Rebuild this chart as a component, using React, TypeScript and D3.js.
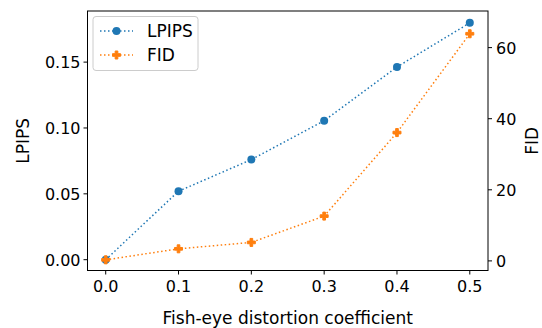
import React from "react";
import * as d3 from "d3";

const coeffs = [0.0, 0.1, 0.2, 0.3, 0.4, 0.5];
const lpips = [0.0, 0.052, 0.076, 0.1055, 0.1463, 0.1798];
const fid = [0.3, 3.4, 5.2, 12.6, 36.1, 63.9];
const xTicks = [0.0, 0.1, 0.2, 0.3, 0.4, 0.5];
const leftTicks = [0.0, 0.05, 0.1, 0.15];
const rightTicks = [0, 20, 40, 60];

const W = 542, H = 328;
const L = 87.5, R = 488, T = 11, B = 270.5;
const BLUE = "#1f77b4", ORANGE = "#ff7f0e";
const FONT = "DejaVu Sans, sans-serif";
const TICK_FS = 16;
const LABEL_FS = 17;

function Plus({ x, y, s, color }: { x: number; y: number; s: number; color: string }) {
  const a = s / 2, b = s / 6;
  const d = `M${x - b},${y - a}H${x + b}V${y - b}H${x + a}V${y + b}H${x + b}V${y + a}H${x - b}V${y + b}H${x - a}V${y - b}H${x - b}Z`;
  return <path d={d} fill={color} stroke={color} strokeWidth={1} strokeLinejoin="miter" />;
}

export default function App() {
  const x = d3.scaleLinear().domain([-0.025, 0.525]).range([L, R]);
  const yL = d3.scaleLinear().domain([-0.0082, 0.1888]).range([B, T]);
  const yR = d3.scaleLinear().domain([-2.7, 70.3]).range([B, T]);
  const lineL = d3.line<number>().x((_, i) => x(coeffs[i])).y((d) => yL(d));
  const lineR = d3.line<number>().x((_, i) => x(coeffs[i])).y((d) => yR(d));
  const dash = "1.5 2.5";
  return (
    <svg width={W} height={H} style={{ position: "absolute", left: 0, top: 0, fontFamily: FONT }}>
      <rect width={W} height={H} fill="white" />
      <path d={lineL(lpips) || ""} fill="none" stroke={BLUE} strokeWidth={1.5} strokeDasharray={dash} />
      {lpips.map((v, i) => (
        <circle key={"c" + i} cx={x(coeffs[i])} cy={yL(v)} r={4} fill={BLUE} />
      ))}
      <path d={lineR(fid) || ""} fill="none" stroke={ORANGE} strokeWidth={1.5} strokeDasharray={dash} />
      {fid.map((v, i) => (
        <Plus key={"p" + i} x={x(coeffs[i])} y={yR(v)} s={8} color={ORANGE} />
      ))}
      <rect x={L} y={T} width={R - L} height={B - T} fill="none" stroke="black" strokeWidth={1} />
      {xTicks.map((t) => (
        <g key={"x" + t}>
          <line x1={x(t)} x2={x(t)} y1={B} y2={B + 4} stroke="black" />
          <text x={x(t)} y={292.3} textAnchor="middle" fontSize={TICK_FS}>{t.toFixed(1)}</text>
        </g>
      ))}
      {leftTicks.map((t) => (
        <g key={"l" + t}>
          <line x1={L - 4} x2={L} y1={yL(t)} y2={yL(t)} stroke="black" />
          <text x={80.5} y={yL(t) + 6} textAnchor="end" fontSize={TICK_FS}>{t.toFixed(2)}</text>
        </g>
      ))}
      {rightTicks.map((t) => (
        <g key={"r" + t}>
          <line x1={R} x2={R + 4} y1={yR(t)} y2={yR(t)} stroke="black" />
          <text x={496} y={yR(t) + 6} textAnchor="start" fontSize={TICK_FS}>{t}</text>
        </g>
      ))}
      <text x={(L + R) / 2} y={324} textAnchor="middle" fontSize={LABEL_FS}>Fish-eye distortion coefficient</text>
      <text transform={`translate(28.5,${(T + B) / 2}) rotate(-90)`} textAnchor="middle" fontSize={LABEL_FS}>LPIPS</text>
      <text transform={`translate(538,${(T + B) / 2}) rotate(-90)`} textAnchor="middle" fontSize={LABEL_FS}>FID</text>
      <g>
        <rect x={93} y={16.5} width={105} height={54} rx={3} fill="white" fillOpacity={0.8} stroke="#cccccc" strokeWidth={1} />
        <line x1={100} x2={133} y1={31} y2={31} stroke={BLUE} strokeWidth={1.5} strokeDasharray={dash} />
        <circle cx={116.5} cy={31} r={4} fill={BLUE} />
        <text x={147} y={37} fontSize={LABEL_FS}>LPIPS</text>
        <line x1={100} x2={133} y1={55} y2={55} stroke={ORANGE} strokeWidth={1.5} strokeDasharray={dash} />
        <Plus x={116.5} y={55} s={8} color={ORANGE} />
        <text x={147} y={61} fontSize={LABEL_FS}>FID</text>
      </g>
    </svg>
  );
}
